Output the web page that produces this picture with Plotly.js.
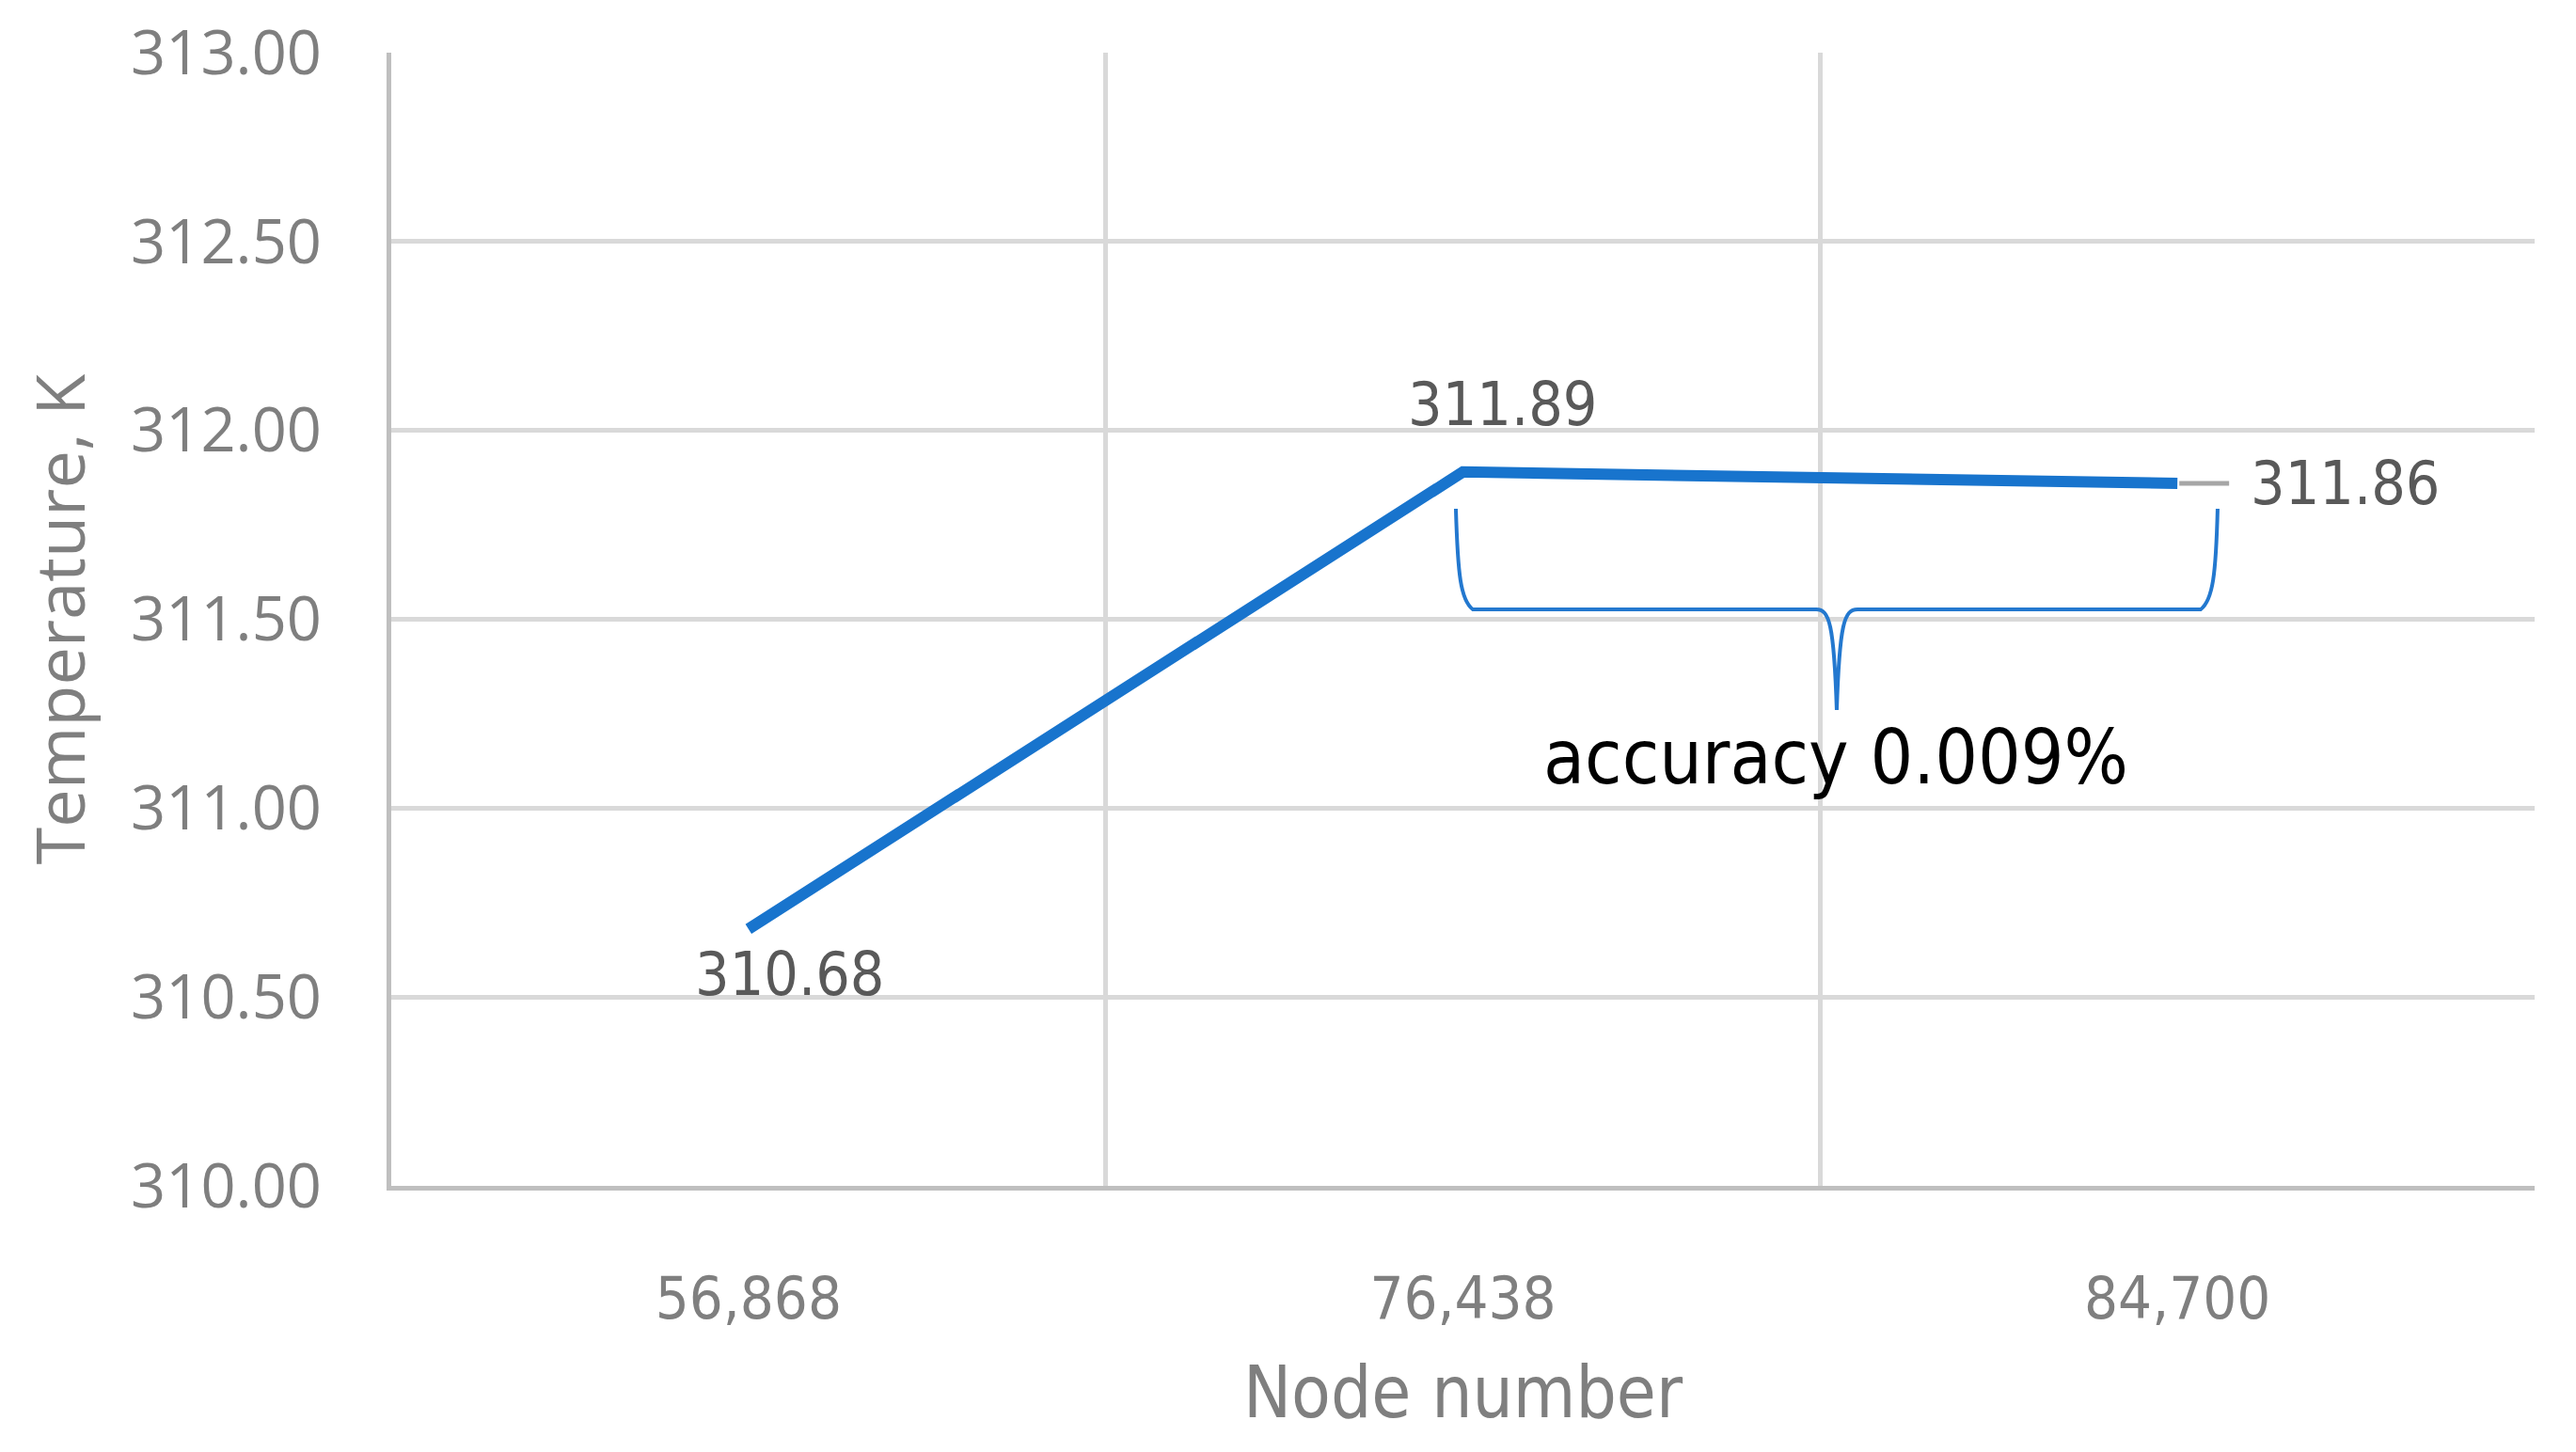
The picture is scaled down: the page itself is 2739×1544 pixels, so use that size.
<!DOCTYPE html>
<html>
<head>
<meta charset="utf-8">
<script src="https://cdn.plot.ly/plotly-3.0.1.min.js"></script>
<style>html,body{margin:0;padding:0;background:#fff}</style>
</head>
<body>
<div id="chart" style="width:2739px;height:1544px"></div>
<script>
// mesh sizes (node count) and probe temperature, K
const nodeLabels = ['56,868', '76,438', '84,700'];
const temperatures = [310.68, 311.89, 311.86];
const yTicks = [310, 310.5, 311, 311.5, 312, 312.5, 313];
const accuracyText = 'accuracy 0.009%';

const W = 2739, H = 1544;
const M = { l: 416, r: 44, t: 56, b: 283 };
const plotW = W - M.l - M.r;
const plotH = H - M.t - M.b;

// pixel -> paper helpers for the hand drawn brace
const px = x => +((x - M.l) / plotW).toFixed(4);
const py = y => +((H - M.b - y) / plotH).toFixed(4);

const narrow = '"DejaVu Sans Condensed", "Liberation Sans Narrow", "DejaVu Sans", sans-serif';
const wide = '"Open Sans", "Noto Sans", sans-serif';
const labelColor = '#595959';
const axisColor = '#7f7f7f';
const lineColor = '#1874cd';

// brace under the two finest meshes
function bracePath() {
  const L = 1548, R = 2358, top = 541, mid = 648, tip = 755, cx = 1953;
  return [
    `M${px(L)},${py(top)}`,
    `C${px(L + 2)},${py(top + 70)} ${px(L + 5)},${py(mid - 10)} ${px(L + 18)},${py(mid)}`,
    `L${px(cx - 22)},${py(mid)}`,
    `C${px(cx - 8)},${py(mid)} ${px(cx - 3)},${py(mid + 15)} ${px(cx)},${py(tip)}`,
    `C${px(cx + 3)},${py(mid + 15)} ${px(cx + 8)},${py(mid)} ${px(cx + 22)},${py(mid)}`,
    `L${px(R - 18)},${py(mid)}`,
    `C${px(R - 5)},${py(mid - 10)} ${px(R - 2)},${py(top + 70)} ${px(R)},${py(top)}`
  ].join(' ');
}

const trace = {
  x: nodeLabels,
  y: temperatures,
  type: 'scatter',
  mode: 'lines',
  line: { color: lineColor, width: 12 },
  hoverinfo: 'x+y',
  showlegend: false
};

// data label placement (pixel offsets from each point)
const labelShift = [
  { xshift: 44, yshift: -48 },
  { xshift: 42, yshift: 72 },
  null
];

const annotations = temperatures.map((t, i) => {
  const base = {
    x: nodeLabels[i],
    y: t,
    xref: 'x',
    yref: 'y',
    text: t.toFixed(2),
    font: { family: narrow, size: 64, color: labelColor }
  };
  if (labelShift[i]) {
    return Object.assign(base, { showarrow: false }, labelShift[i]);
  }
  // last label sits to the right with a grey leader line
  return Object.assign(base, {
    showarrow: true,
    arrowhead: 0,
    arrowwidth: 5,
    arrowcolor: '#a6a6a6',
    ax: 55,
    ay: 0,
    xanchor: 'left',
    borderpad: 22,
    standoff: 2
  });
});

annotations.push({
  xref: 'paper',
  yref: 'paper',
  x: px(1952),
  y: py(806),
  xanchor: 'center',
  yanchor: 'middle',
  text: accuracyText,
  showarrow: false,
  font: { family: narrow, size: 80, color: '#000000' }
});

const layout = {
  width: W,
  height: H,
  margin: M,
  paper_bgcolor: '#ffffff',
  plot_bgcolor: '#ffffff',
  xaxis: {
    type: 'category',
    range: [-0.5, 2.5],
    tickson: 'boundaries',
    ticks: '',
    showgrid: true,
    gridcolor: '#d9d9d9',
    gridwidth: 5,
    showline: true,
    linecolor: '#bfbfbf',
    linewidth: 5,
    ticklabelstandoff: 60,
    tickfont: { family: narrow, size: 63, color: axisColor },
    title: {
      text: 'Node number',
      font: { family: narrow, size: 76, color: axisColor },
      standoff: 40
    }
  },
  yaxis: {
    range: [310, 313],
    tickvals: yTicks,
    tickformat: '.2f',
    ticks: '',
    showgrid: true,
    gridcolor: '#d9d9d9',
    gridwidth: 5,
    zeroline: false,
    showline: true,
    linecolor: '#bfbfbf',
    linewidth: 5,
    ticklabelstandoff: 56,
    tickfont: { family: wide, size: 65, color: axisColor },
    title: {
      text: 'Temperature, K',
      font: { family: wide, size: 72, color: axisColor },
      standoff: 26
    }
  },
  shapes: [{
    type: 'path',
    xref: 'paper',
    yref: 'paper',
    path: bracePath(),
    line: { color: '#2378cf', width: 4 }
  }],
  annotations: annotations
};

Plotly.newPlot('chart', [trace], layout, { displayModeBar: false, staticPlot: true });
</script>
</body>
</html>
